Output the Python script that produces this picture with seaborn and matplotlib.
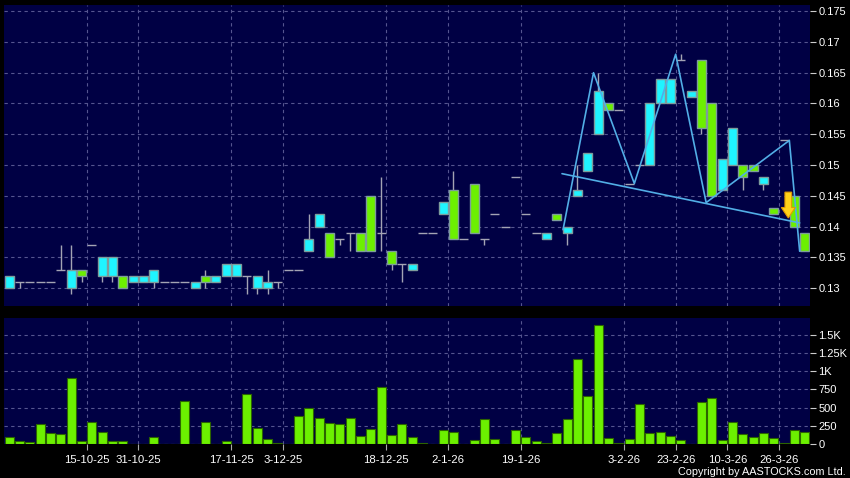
import numpy as np
import pandas as pd
import matplotlib
matplotlib.use("Agg")
import matplotlib.pyplot as plt
import seaborn as sns
from matplotlib.ticker import FuncFormatter, FixedLocator
from matplotlib.patches import FancyArrow

# Daily OHLC (HKD), one entry per session
opens = [0.130, 0.131, 0.131, 0.131, 0.131, 0.133, 0.130, 0.133, 0.137, 0.132,
         0.132, 0.132, 0.131, 0.131, 0.131, 0.131, 0.131, 0.131, 0.130, 0.132,
         0.131, 0.132, 0.132, 0.132, 0.130, 0.130, 0.131, 0.133, 0.133, 0.136,
         0.140, 0.139, 0.138, 0.139, 0.139, 0.145, 0.139, 0.136, 0.134, 0.133,
         0.139, 0.139, 0.142, 0.146, 0.138, 0.147, 0.138, 0.142, 0.140, 0.148,
         0.142, 0.139, 0.138, 0.142, 0.139, 0.145, 0.149, 0.155, 0.160, 0.159,
         0.147, 0.150, 0.150, 0.160, 0.160, 0.167, 0.161, 0.167, 0.160, 0.146,
         0.150, 0.150, 0.150, 0.147, 0.143, 0.154, 0.145, 0.139]
highs = [0.132, 0.131, 0.131, 0.131, 0.131, 0.137, 0.137, 0.133, 0.137, 0.135,
         0.135, 0.132, 0.132, 0.132, 0.133, 0.131, 0.131, 0.131, 0.131, 0.133,
         0.132, 0.134, 0.134, 0.132, 0.132, 0.133, 0.131, 0.133, 0.133, 0.142,
         0.142, 0.139, 0.138, 0.139, 0.139, 0.145, 0.148, 0.136, 0.134, 0.134,
         0.139, 0.139, 0.144, 0.149, 0.138, 0.147, 0.138, 0.142, 0.140, 0.148,
         0.142, 0.139, 0.139, 0.142, 0.140, 0.150, 0.152, 0.165, 0.160, 0.159,
         0.147, 0.150, 0.160, 0.164, 0.164, 0.168, 0.162, 0.167, 0.160, 0.151,
         0.156, 0.150, 0.150, 0.148, 0.143, 0.154, 0.145, 0.139]
lows = [0.130, 0.130, 0.131, 0.131, 0.131, 0.133, 0.129, 0.131, 0.137, 0.131,
        0.131, 0.130, 0.131, 0.131, 0.130, 0.131, 0.131, 0.131, 0.130, 0.130,
        0.131, 0.132, 0.132, 0.129, 0.129, 0.129, 0.130, 0.133, 0.133, 0.136,
        0.140, 0.135, 0.137, 0.136, 0.136, 0.136, 0.136, 0.133, 0.131, 0.133,
        0.139, 0.139, 0.142, 0.138, 0.138, 0.139, 0.137, 0.142, 0.140, 0.148,
        0.142, 0.139, 0.138, 0.141, 0.137, 0.145, 0.149, 0.155, 0.159, 0.159,
        0.147, 0.150, 0.150, 0.160, 0.160, 0.167, 0.161, 0.155, 0.145, 0.146,
        0.150, 0.146, 0.149, 0.146, 0.142, 0.154, 0.140, 0.136]
closes = [0.132, 0.131, 0.131, 0.131, 0.131, 0.133, 0.133, 0.132, 0.137, 0.135,
          0.135, 0.130, 0.132, 0.132, 0.133, 0.131, 0.131, 0.131, 0.131, 0.131,
          0.132, 0.134, 0.134, 0.132, 0.132, 0.131, 0.131, 0.133, 0.133, 0.138,
          0.142, 0.135, 0.138, 0.139, 0.136, 0.136, 0.139, 0.134, 0.134, 0.134,
          0.139, 0.139, 0.144, 0.138, 0.138, 0.139, 0.138, 0.142, 0.140, 0.148,
          0.142, 0.139, 0.139, 0.141, 0.140, 0.146, 0.152, 0.162, 0.159, 0.159,
          0.147, 0.150, 0.160, 0.164, 0.164, 0.167, 0.162, 0.156, 0.145, 0.151,
          0.156, 0.148, 0.149, 0.148, 0.142, 0.154, 0.140, 0.136]
# Volume in thousand shares
volumes = [97, 37, 32, 278, 157, 144, 907, 42, 306, 167,
           37, 42, 0, 0, 93, 0, 0, 588, 0, 296,
           0, 37, 0, 685, 213, 69, 14, 0, 380, 500,
           352, 282, 273, 357, 116, 204, 787, 130, 273, 93,
           19, 0, 194, 171, 0, 55, 345, 72, 0, 192,
           100, 37, 9, 156, 340, 1165, 660, 1628, 78, 14,
           64, 555, 151, 170, 110, 50, 0, 573, 633, 50,
           298, 133, 96, 156, 78, 18, 197, 165]

# date ticks (session index each gridline follows) and their labels
tick_idx = [7, 12, 21, 26, 36, 42, 49, 59, 64, 69, 74]
tick_labels = ["15-10-25", "31-10-25", "17-11-25", "3-12-25", "18-12-25", "2-1-26",
               "19-1-26", "3-2-26", "23-2-26", "10-3-26", "26-3-26"]

# user-drawn head & shoulders pattern lines (session index, price)
zigzag_x = [53.6, 56.55, 60.5, 64.5, 67.45, 75.5, 76.5]
zigzag_y = [0.1395, 0.165, 0.147, 0.168, 0.1439, 0.154, 0.136]
neck_x = [53.5, 76.5]
neck_y = [0.1486, 0.1406]
arrow_at = (75.4, 0.1456, 0.1414)

df = pd.DataFrame({"open": opens, "high": highs, "low": lows,
                   "close": closes, "volume": volumes})
df["idx"] = np.arange(len(df))

bg = "#000044"
grid_c = "#55558f"
up_c = "#1ff4ff"
down_c = "#6cf000"
edge_c = "#7d9c9c"
wick_c = "#a4a4b4"

sns.set_theme(style="dark", rc={"axes.facecolor": bg, "figure.facecolor": "black",
                                "savefig.facecolor": "black", "text.color": "white",
                                "xtick.color": "white", "ytick.color": "white"})
plt.rcParams["font.family"] = ["Liberation Sans", "DejaVu Sans"]

fig = plt.figure(figsize=(8.5, 4.78), dpi=100)
ax = fig.add_axes([4 / 850, 1 - 306 / 478, 806 / 850, 301 / 478])
axv = fig.add_axes([4 / 850, 1 - 444 / 478, 806 / 850, 125.7 / 478])

grid_x = [i + 0.5 for i in tick_idx]

for a in (ax, axv):
    a.set_facecolor(bg)
    for s in a.spines.values():
        s.set_visible(False)
    a.set_xlim(-0.5, len(df) - 0.5)
    a.xaxis.set_major_locator(FixedLocator(grid_x))
    a.grid(True, color=grid_c, linestyle=(0, (3, 3)), linewidth=0.8)
    a.set_axisbelow(True)
    a.yaxis.tick_right()
    a.tick_params(axis="y", direction="out", length=4, width=0.8, color="#cccccc",
                  pad=2, labelsize=8, labelcolor="white", right=True, left=False)

# --- price candles
w = 0.87
body = df[df["open"] != df["close"]]
flat = df[df["open"] == df["close"]]
ax.vlines(df["idx"], df["low"], df["high"], color=wick_c, lw=1, zorder=2)
ax.hlines(flat["close"], flat["idx"] - w / 2, flat["idx"] + w / 2, color=wick_c, lw=1, zorder=2)
cols = [up_c if c > o else down_c for o, c in zip(body["open"], body["close"])]
ax.bar(body["idx"], (body["close"] - body["open"]).abs(),
       bottom=body[["open", "close"]].min(axis=1), width=w, color=cols,
       edgecolor=edge_c, linewidth=1, zorder=3)

ax.plot(zigzag_x, zigzag_y, color="#52aee6", lw=1.2, zorder=4)
ax.plot(neck_x, neck_y, color="#52aee6", lw=1.2, zorder=4)
ax.add_patch(FancyArrow(arrow_at[0], arrow_at[1], 0, arrow_at[2] - arrow_at[1],
                        width=0.65, head_width=1.35, head_length=0.0017,
                        length_includes_head=True, fc="#ffd21a", ec="#e09a00",
                        lw=0.8, zorder=5))

ax.set_ylim(0.1271, 0.1760)
ax.yaxis.set_major_locator(FixedLocator(np.arange(0.130, 0.1751, 0.005)))
ax.yaxis.set_major_formatter(FuncFormatter(lambda v, _: f"{v:.3f}".rstrip("0")))
ax.tick_params(axis="x", length=0, labelbottom=False)


# --- volume
def fmt_vol(v, _):
    if v >= 1000:
        return f"{v / 1000:g}K"
    return f"{v:g}"


sns.barplot(data=df, x="idx", y="volume", native_scale=True, color=down_c,
            saturation=1, width=0.87, edgecolor="#2c6400", linewidth=0.8,
            errorbar=None, ax=axv)
axv.set_xlim(-0.5, len(df) - 0.5)
axv.set_ylim(0, 1725)
axv.yaxis.set_major_locator(FixedLocator(np.arange(0, 1501, 250)))
axv.yaxis.set_major_formatter(FuncFormatter(fmt_vol))
axv.xaxis.set_major_locator(FixedLocator(grid_x))
axv.set_xticklabels(tick_labels)
axv.tick_params(axis="x", direction="out", length=4, width=0.8, color="#aaaaaa",
                pad=4, labelsize=8.2, labelcolor="white", bottom=True)
axv.set_xlabel("")
axv.set_ylabel("")

fig.text(846 / 850, 1 - 472 / 478, "Copyright by AASTOCKS.com Ltd.", color="white",
         fontsize=7.8, ha="right", va="center")

fig.savefig("out.png", dpi=100, facecolor="black")
